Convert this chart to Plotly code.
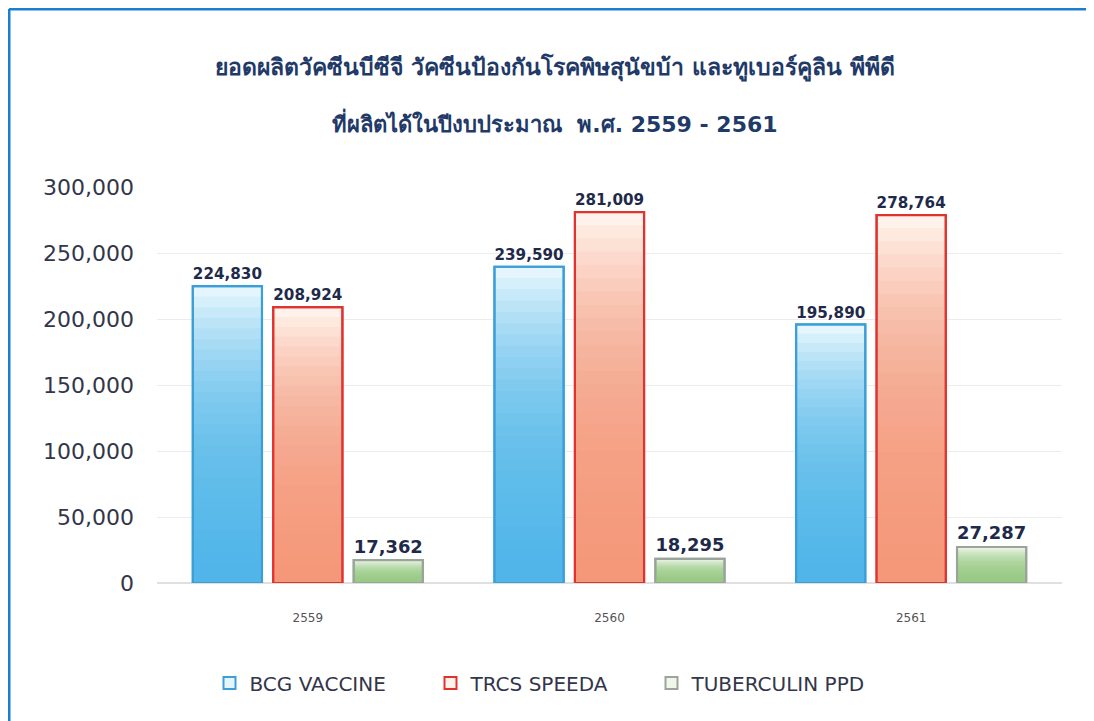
import plotly.graph_objects as go

years = ["2559", "2560", "2561"]
bcg = [224830, 239590, 195890]
trcs = [208924, 281009, 278764]
ppd = [17362, 18295, 27287]
series_names = ["BCG VACCINE", "TRCS SPEEDA", "TUBERCULIN PPD"]
y_ticks = [0, 50000, 100000, 150000, 200000, 250000, 300000]
title_line1 = "ยอดผลิตวัคซีนบีซีจี วัคซีนป้องกันโรคพิษสุนัขบ้า และทูเบอร์คูลิน พีพีดี"
title_line2 = "ที่ผลิตได้ในปีงบประมาณ  พ.ศ. 2559 - 2561"

styles = [
    # top color, bottom rgb, border
    ("#e4f5fd", (72, 182, 238), "#3a9fd8"),
    ("#fff2eb", (246, 150, 112), "#e0322f"),
    ("#eff7eb", (150, 200, 132), "#9aa49a"),
]

fig = go.Figure()
N = 28
for name, vals, (top, bot, border), grp in zip(series_names, [bcg, trcs, ppd], styles, ["a", "b", "c"]):
    fig.add_trace(go.Bar(
        x=years, y=vals, name=name, offsetgroup=grp,
        marker=dict(color=top, line=dict(color=border, width=2)),
        hoverinfo="skip", showlegend=True,
    ))
    for k in range(1, N):
        fig.add_trace(go.Bar(
            x=years, y=[v * k / N for v in vals], offsetgroup=grp,
            marker=dict(color="rgba(%d,%d,%d,0.095)" % bot, line=dict(width=0)),
            hoverinfo="skip", showlegend=False,
        ))
    fig.add_trace(go.Bar(
        x=years, y=vals, offsetgroup=grp,
        marker=dict(color="rgba(0,0,0,0)", line=dict(color=border, width=2.2)),
        text=[f"{v:,}" for v in vals], textposition="outside",
        textfont=dict(family="DejaVu Sans", size=20, color="#1f2a4a", weight="bold"),
        cliponaxis=False, hoverinfo="skip", showlegend=False,
    ))

# page body has an 8px margin: work in reference pixels, shifted by OFF
OFF = 8
W, H = 1094 - OFF, 721 - OFF
L, T = 157 - OFF, 187 - OFF
R = 1094 - 1062
B = 721 - 583
pw, ph = W - L - R, H - T - B

def px(x):
    return (x - OFF - L) / pw

def py(y):
    return (H - B - (y - OFF)) / ph

fig.update_layout(
    width=W, height=H,
    margin=dict(l=L, r=R, t=T, b=B),
    paper_bgcolor="#ffffff", plot_bgcolor="#ffffff",
    barmode="group", bargap=0.2, bargroupgap=0.14,
    font=dict(family="DejaVu Sans", color="#333333"),
    xaxis=dict(
        type="category", showgrid=False, showline=False, ticks="",
        tickfont=dict(size=12, color="#555555"), ticklabelstandoff=26,
    ),
    yaxis=dict(
        range=[0, 300000], tickvals=y_ticks, tickformat=",",
        tickfont=dict(size=22, color="#33364a"),
        showgrid=True, gridcolor="#ececec", gridwidth=1,
        zeroline=True, zerolinecolor="#e0e0e0", ticklabelstandoff=22,
    ),
    legend=dict(
        orientation="h", x=px(541), xanchor="center", y=py(683), yanchor="middle",
        font=dict(size=20, color="#33364a"), entrywidth=176, itemsizing="constant",
        bgcolor="rgba(0,0,0,0)",
    ),
    annotations=[
        dict(text=title_line1, x=px(555), y=py(68), xref="paper", yref="paper",
             showarrow=False, xanchor="center", yanchor="middle",
             font=dict(size=23, color="#1f3a68", weight="bold")),
        dict(text=title_line2, x=px(555), y=py(122), xref="paper", yref="paper",
             showarrow=False, xanchor="center", yanchor="middle",
             font=dict(size=22, color="#1f3a68", weight="bold")),
    ],
    shapes=[
        dict(type="line", xref="paper", yref="paper", x0=px(9), x1=px(9), y0=py(9), y1=py(721),
             line=dict(color="#1a7fd0", width=3)),
        dict(type="line", xref="paper", yref="paper", x0=px(9), x1=px(1094), y0=py(9), y1=py(9),
             line=dict(color="#1a7fd0", width=3)),
    ],
)

fig.write_html("out.html")
